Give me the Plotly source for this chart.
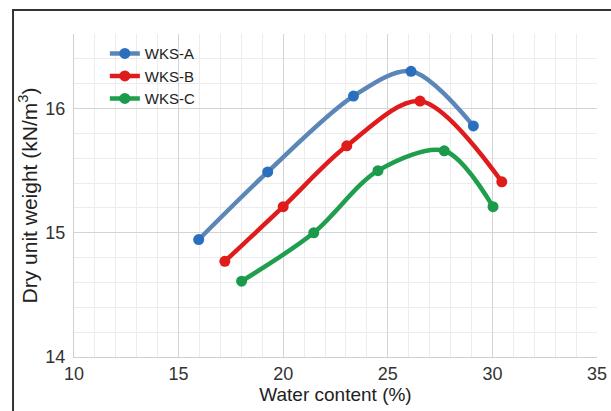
import plotly.graph_objects as go

series_names = ["WKS-A", "WKS-B", "WKS-C"]
wks_a_x = [15.96, 19.26, 23.36, 26.11, 29.09]
wks_a_y = [14.945, 15.49, 16.10, 16.30, 15.86]
wks_b_x = [17.21, 20.0, 23.04, 26.54, 30.45]
wks_b_y = [14.77, 15.21, 15.70, 16.06, 15.41]
wks_c_x = [18.01, 21.46, 24.53, 27.70, 30.03]
wks_c_y = [14.61, 15.00, 15.50, 15.66, 15.21]

line_colors = ["#5b86b8", "#e01b1b", "#1f9e4e"]
marker_colors = ["#2a6fbd", "#e01b1b", "#1a9a4a"]

fig = go.Figure()
for name, xs, ys, lc, mc in zip(series_names,
                                [wks_a_x, wks_b_x, wks_c_x],
                                [wks_a_y, wks_b_y, wks_c_y],
                                line_colors, marker_colors):
    fig.add_trace(go.Scatter(
        x=xs, y=ys, name=name, mode="lines+markers",
        line=dict(color=lc, width=4.5, shape="spline", smoothing=0.9),
        marker=dict(color=mc, size=11),
    ))

narrow = "Liberation Sans Narrow, Arial Narrow, Liberation Sans, sans-serif"
regular = "Liberation Sans, Arial, sans-serif"
tick_font = dict(family=narrow, size=18, color="#333333")

fig.update_layout(
    width=611, height=411,
    margin=dict(l=74, r=14, t=34, b=54),
    paper_bgcolor="white", plot_bgcolor="white",
    showlegend=True,
    legend=dict(x=0.059, y=0.99, xanchor="left", yanchor="top",
                bgcolor="rgba(0,0,0,0)", tracegroupgap=0, itemwidth=30,
                font=dict(family=regular, size=15, color="#222222")),
    xaxis=dict(range=[10, 35], dtick=5, tickfont=tick_font, automargin=False,
               showgrid=True, gridcolor="#d4d4d4", gridwidth=1,
               minor=dict(dtick=1, showgrid=True, gridcolor="#ececec"),
               zeroline=False, showline=True, linecolor="#cfcfcf", ticks="",
               title=dict(text="Water content (%)", standoff=4,
                          font=dict(family=regular, size=19, color="#222222"))),
    yaxis=dict(range=[14, 16.6], dtick=1, tickfont=tick_font, automargin=False,
               ticklabelstandoff=4,
               showgrid=True, gridcolor="#d4d4d4", gridwidth=1,
               minor=dict(dtick=0.2, showgrid=True, gridcolor="#ececec"),
               zeroline=False, showline=True, linecolor="#cfcfcf", ticks="",
               title=dict(text="Dry unit weight (kN/m<sup>3</sup>)", standoff=2,
                          font=dict(family=regular, size=21, color="#222222"))),
)

fig.add_shape(type="rect", xref="paper", yref="paper",
              x0=-0.1166, x1=1.2, y0=-0.5, y1=1.0743,
              line=dict(color="#333333", width=2), fillcolor="rgba(0,0,0,0)", layer="above")

fig.write_html("out.html",
               config={"displayModeBar": False},
               post_script="document.body.style.margin='0px';"
                           "document.documentElement.style.overflow='hidden';")
